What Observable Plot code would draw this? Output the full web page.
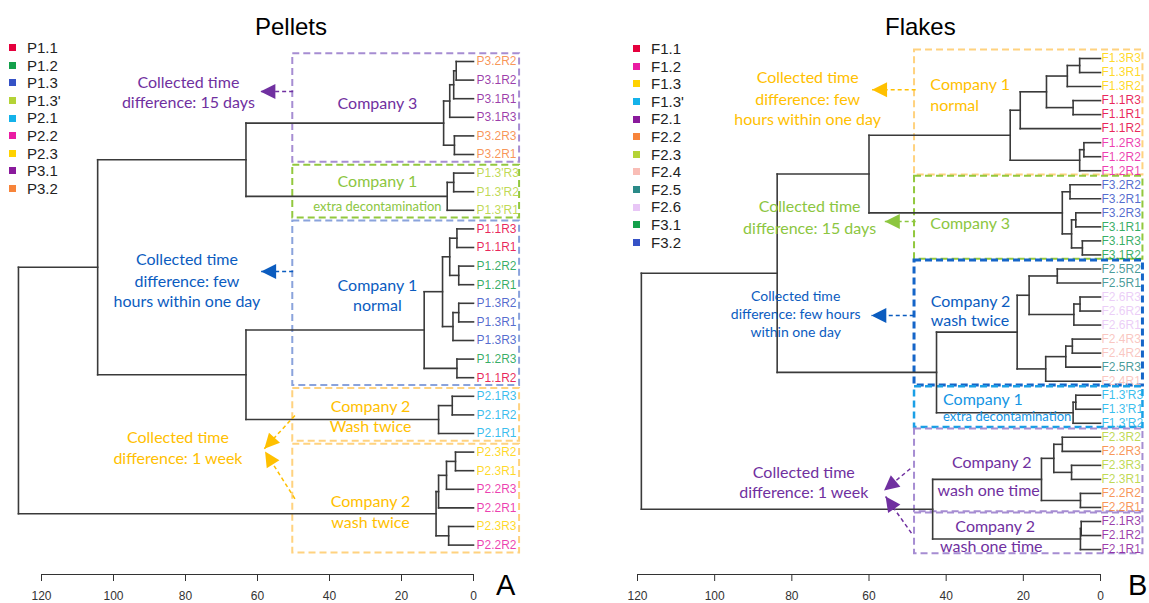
<!DOCTYPE html>
<html><head><meta charset="utf-8">
<script src="https://cdn.jsdelivr.net/npm/d3@7"></script>
<script src="https://cdn.jsdelivr.net/npm/@observablehq/plot@0.6"></script>
<style>
body{margin:0;background:#fff;}
#wrap{position:relative;width:1149px;height:603px;overflow:hidden;font-family:"Liberation Sans",Arial,sans-serif;}
.panel{position:absolute;top:0;}
.title{position:absolute;font-size:24px;line-height:24px;color:#000;white-space:nowrap;}
.legend{position:absolute;font-size:15px;color:#222;}
.legend .row{height:17.6px;line-height:17.6px;display:flex;align-items:center;white-space:nowrap;}
.legend .sw{width:7px;height:7px;display:inline-block;}
.letter{position:absolute;font-size:29px;line-height:29px;color:#000;}
</style></head>
<body><div id="wrap"></div>
<script>
// ---------- Panel A : Pellets ----------
const leavesA = ["P3.2R2","P3.1R2","P3.1R1","P3.1R3","P3.2R3","P3.2R1",
  "P1.3'R3","P1.3'R2","P1.3'R1",
  "P1.1R3","P1.1R1","P1.2R2","P1.2R1","P1.3R2","P1.3R1","P1.3R3","P1.2R3","P1.1R2",
  "P2.1R3","P2.1R2","P2.1R1",
  "P2.3R2","P2.3R1","P2.2R3","P2.2R1","P2.3R3","P2.2R2"];
// hclust-style merges: negative = leaf (1-based), positive = earlier merge (1-based), then height
const mergesA = [
  [-1,-2,4.8],[1,-3,5.5],[2,-4,6.6],[-5,-6,5.3],[3,4,8.3],
  [-7,-8,5.5],[6,-9,7.3],[5,7,63.2],
  [-10,-11,4.6],[-12,-13,4.1],[9,10,6.6],[-14,-15,4.1],[12,-16,5.7],[11,13,8.6],[-17,-18,4.6],[14,15,13.7],
  [-19,-20,5.9],[17,-21,9.7],[16,18,63.2],[8,19,104.4],
  [-22,-23,5.0],[21,-24,7.5],[22,-25,9.7],[-26,-27,6.9],[23,24,10.4],[20,25,126.4]];
const groupsA = ["P1.1","P1.2","P1.3","P1.3'","P2.1","P2.2","P2.3","P3.1","P3.2"];
const colorsA = ["#e5003d","#13a04b","#3552c6","#b4d336","#14b2ea","#ea1ca3","#ffd200","#8a1a9c","#f7843a"];
const boxFirstA = ["P3.2R2","P1.3'R3","P1.1R3","P2.1R3","P2.3R2"];
const boxLastA  = ["P3.2R1","P1.3'R1","P1.1R2","P2.1R1","P2.2R2"];
const boxColorA = ["#a68dd2","#92c83e","#8aa3dc","#ffd27f","#ffd27f"];

// ---------- Panel B : Flakes ----------
const leavesB = ["F1.3R3","F1.3R1","F1.3R2","F1.1R3","F1.1R1","F1.1R2","F1.2R3","F1.2R2","F1.2R1",
  "F3.2R2","F3.2R1","F3.2R3","F3.1R1","F3.1R3","F3.1R2",
  "F2.5R2","F2.5R1","F2.6R3","F2.6R2","F2.6R1","F2.4R3","F2.4R2","F2.5R3","F2.4R1",
  "F1.3'R3","F1.3'R1","F1.3'R2",
  "F2.3R2","F2.2R3","F2.3R3","F2.3R1","F2.2R2","F2.2R1",
  "F2.1R3","F2.1R2","F2.1R1"];
const mergesB = [
  [-1,-2,5.4],[1,-3,8.6],[-4,-5,7.1],[2,3,14.0],[4,-6,20.8],[-7,-8,4.3],[6,-9,5.4],[5,7,23.4],
  [-10,-11,7.9],[-12,-13,6.4],[-14,-15,4.7],[10,11,7.5],[9,12,9.9],[8,13,60.0],
  [-16,-17,11.2],[-18,-19,5.3],[16,-20,6.9],[15,17,18.5],[-21,-22,7.3],[19,-23,9.0],[20,-24,14.2],[18,21,21.6],
  [-25,-26,6.4],[23,-27,7.1],[22,24,42.5],[14,25,83.8],
  [-28,-29,9.9],[-30,-31,7.5],[27,28,12.1],[-32,-33,5.2],[29,30,15.3],
  [-34,-35,5.0],[32,-36,5.2],[31,33,43.5],[26,34,119.0]];
const groupsB = ["F1.1","F1.2","F1.3","F1.3'","F2.1","F2.2","F2.3","F2.4","F2.5","F2.6","F3.1","F3.2"];
const colorsB = ["#e5003d","#ea1ca3","#ffd200","#14b2ea","#8a1a9c","#f7843a","#b4d336","#f9bdb6","#2a8a88","#e8c6f6","#13a04b","#3552c6"];
const boxFirstB = ["F1.3R3","F3.2R2","F2.5R2","F1.3'R3","F2.3R2","F2.1R3"];
const boxLastB  = ["F1.2R1","F3.1R2","F2.4R1","F1.3'R2","F2.2R1","F2.1R1"];
const boxColorB = ["#ffd27f","#92c83e","#1565c8","#1a9fe6","#a68dd2","#a68dd2"];

const ticks = [120,100,80,60,40,20,0];

// annotation colours
const cPurple = "#7030a0", cBlue = "#0b5cbf", cOrange = "#ffc000", cGreen = "#8cc63f", cCyan = "#1495e4";

// annotation texts (x in distance units, y in leaf-index units)
const notesA = [
  {t:"Company 3", x:26.7, y:2.26, c:cPurple, s:16},
  {t:"Company 1", x:26.7, y:6.49, c:cGreen, s:16},
  {t:"extra decontamination", x:26.7, y:7.8, c:cGreen, s:13},
  {t:"Company 1", x:26.7, y:12.04, c:cBlue, s:16},
  {t:"normal", x:26.7, y:13.16, c:cBlue, s:16},
  {t:"Company 2", x:28.6, y:18.55, c:cOrange, s:16},
  {t:"Wash twice", x:28.6, y:19.66, c:cOrange, s:16},
  {t:"Company 2", x:28.6, y:23.69, c:cOrange, s:16},
  {t:"wash twice", x:28.6, y:24.8, c:cOrange, s:16},
  {t:"Collected time", x:79.2, y:1.145, c:cPurple, s:16},
  {t:"difference: 15 days", x:79.2, y:2.24, c:cPurple, s:16},
  {t:"Collected time", x:79.6, y:10.67, c:cBlue, s:16},
  {t:"difference: few", x:79.6, y:11.83, c:cBlue, s:16},
  {t:"hours within one day", x:79.6, y:12.94, c:cBlue, s:16},
  {t:"Collected time", x:82.1, y:20.25, c:cOrange, s:16},
  {t:"difference: 1 week", x:82.1, y:21.38, c:cOrange, s:16}];
const arrowsA = [
  {x1:50.1, y1:1.61, x2:59.2, y2:1.61, c:cPurple},
  {x1:50.1, y1:11.29, x2:59.0, y2:11.29, c:cBlue},
  {x1:49.6, y1:19.03, x2:58.1, y2:20.82, c:cOrange},
  {x1:49.6, y1:23.51, x2:57.9, y2:20.97, c:cOrange}];

const notesB = [
  {t:"Collected time", x:75.9, y:1.40, c:cOrange, s:16, a:"middle"},
  {t:"difference: few", x:75.9, y:2.92, c:cOrange, s:16, a:"middle"},
  {t:"hours within one day", x:75.9, y:4.35, c:cOrange, s:16, a:"middle"},
  {t:"Company 1", x:44.1, y:1.85, c:cOrange, s:16, a:"start"},
  {t:"normal", x:44.1, y:3.35, c:cOrange, s:16, a:"start"},
  {t:"Collected time", x:75.4, y:10.60, c:cGreen, s:16, a:"middle"},
  {t:"difference: 15 days", x:75.4, y:12.14, c:cGreen, s:16, a:"middle"},
  {t:"Company 3", x:44.1, y:11.76, c:cGreen, s:16, a:"start"},
  {t:"Collected time", x:79.0, y:16.96, c:cBlue, s:14, a:"middle"},
  {t:"difference: few hours", x:79.0, y:18.25, c:cBlue, s:14, a:"middle"},
  {t:"within one day", x:79.0, y:19.53, c:cBlue, s:14, a:"middle"},
  {t:"Company 2", x:44.0, y:17.37, c:cBlue, s:16, a:"start"},
  {t:"wash twice", x:44.0, y:18.67, c:cBlue, s:16, a:"start"},
  {t:"Company 1", x:40.8, y:24.30, c:cCyan, s:16, a:"start"},
  {t:"extra decontamination", x:40.8, y:25.57, c:cCyan, s:13, a:"start"},
  {t:"Collected time", x:76.9, y:29.53, c:cPurple, s:16, a:"middle"},
  {t:"difference: 1 week", x:76.9, y:30.98, c:cPurple, s:16, a:"middle"},
  {t:"Company 2", x:28.2, y:28.82, c:cPurple, s:16, a:"middle"},
  {t:"wash one time", x:29.0, y:30.79, c:cPurple, s:16, a:"middle"},
  {t:"Company 2", x:27.3, y:33.36, c:cPurple, s:16, a:"middle"},
  {t:"wash one time", x:28.3, y:34.83, c:cPurple, s:16, a:"middle"}];
const arrowsB = [
  {x1:47.9, y1:2.23, x2:59.2, y2:2.23, c:cOrange},
  {x1:47.9, y1:11.62, x2:55.9, y2:11.62, c:cGreen},
  {x1:48.4, y1:18.32, x2:59.4, y2:18.32, c:cBlue},
  {x1:49.3, y1:29.24, x2:56.1, y2:30.79, c:cPurple},
  {x1:49.0, y1:33.83, x2:55.7, y2:31.22, c:cPurple}];

// ---------- helpers ----------
function dendroSegments(merges) {
  const nodeY = [];
  const pos = id => id < 0 ? {x: 0, y: -id - 1} : {x: merges[id - 1][2], y: nodeY[id - 1]};
  const segs = [];
  merges.forEach(([a, b, h], k) => {
    const pa = pos(a), pb = pos(b);
    segs.push({x1: h, y1: pa.y, x2: h, y2: pb.y});
    segs.push({x1: pa.x, y1: pa.y, x2: h, y2: pa.y});
    segs.push({x1: pb.x, y1: pb.y, x2: h, y2: pb.y});
    nodeY[k] = (pa.y + pb.y) / 2;
  });
  return segs;
}
const triangle = {draw(ctx) { ctx.moveTo(0, 0); ctx.lineTo(-7.5, 15); ctx.lineTo(7.5, 15); ctx.closePath(); }};

function makePanel(cfg) {
  const {leaves, merges, groups, colors, boxFirst, boxLast, boxColor, notes, arrows,
         width, marginLeft, marginRight, yDomain, pad0, pad1, boxLeft, boxRight,
         boxWidth, boxDash, labelDx} = cfg;
  const height = 603, marginTop = 0, marginBottom = 29;
  const xDomain = [120, 0];
  const xRange = [marginLeft, width - marginRight];
  const yRange = [marginTop, height - marginBottom];
  const sx = Plot.scale({x: {domain: xDomain, range: xRange}});
  const sy = Plot.scale({y: {domain: yDomain, range: yRange}});
  const angle = a => Math.atan2(sx.apply(a.x2) - sx.apply(a.x1), -(sy.apply(a.y2) - sy.apply(a.y1))) * 180 / Math.PI;
  const groupOf = d => d.replace(/R\d$/, "");
  const colorOf = d => colors[groups.indexOf(groupOf(d))];
  const boxes = boxFirst.map((f, i) => ({y1: leaves.indexOf(f) - pad0, y2: leaves.indexOf(boxLast[i]) + pad1, c: boxColor[i], w: boxWidth[i]}));
  const segs = dendroSegments(merges);
  const mid = notes.filter(n => (n.a || "middle") === "middle");
  const start = notes.filter(n => n.a === "start");
  const noteFont = "Lato, 'Open Sans', sans-serif";
  return Plot.plot({
    width, height, marginLeft, marginRight, marginTop, marginBottom,
    x: {domain: xDomain, range: xRange, axis: null},
    y: {domain: yDomain, range: yRange, axis: null},
    color: {type: "identity"},
    style: {fontFamily: "'Liberation Sans', Arial, sans-serif", background: "transparent"},
    marks: [
      Plot.rect(boxes, {x1: boxLeft, x2: boxRight, y1: "y1", y2: "y2", fill: "none", stroke: "c", strokeWidth: d => d.w, strokeDasharray: boxDash}),
      Plot.link(segs, {x1: "x1", y1: "y1", x2: "x2", y2: "y2", stroke: "#3a3a3a", strokeWidth: 1.6, strokeLinecap: "square"}),
      Plot.text(leaves, {x: 0, y: (d, i) => i, text: d => d, fill: colorOf, fillOpacity: 0.85, textAnchor: "start", dx: labelDx, fontSize: 12}),
      Plot.link(arrows, {x1: "x1", y1: "y1", x2: "x2", y2: "y2", stroke: "c", strokeWidth: 1.5, strokeDasharray: "4,3"}),
      Plot.dot(arrows, {x: "x2", y: "y2", symbol: triangle, rotate: angle, fill: "c", stroke: null}),
      Plot.text(mid, {x: "x", y: "y", text: "t", fill: "c", fontSize: "s", textAnchor: "middle", fontFamily: noteFont}),
      Plot.text(start, {x: "x", y: "y", text: "t", fill: "c", fontSize: "s", textAnchor: "start", fontFamily: noteFont}),
      Plot.ruleY([yDomain[1]], {x1: 120, x2: 0, stroke: "#333", strokeWidth: 1.2}),
      Plot.axisX({ticks, tickSize: 7, tickPadding: 10, fontSize: 12, label: null, anchor: "bottom", stroke: "#333", fill: "#333"})
    ]
  });
}

const wrap = document.getElementById("wrap");
function place(el, left) { el.classList.add("panel"); el.style.left = left + "px"; wrap.appendChild(el); }

place(makePanel({leaves: leavesA, merges: mergesA, groups: groupsA, colors: colorsA,
  boxFirst: boxFirstA, boxLast: boxLastA, boxColor: boxColorA, notes: notesA, arrows: arrowsA,
  width: 575, marginLeft: 41, marginRight: 102, yDomain: [-61 / 18.6, (574 - 61) / 18.6],
  pad0: 0.42, pad1: 0.42, boxLeft: 50.2, boxRight: -12.8, boxWidth: [2, 2, 2, 2, 2], boxDash: "7,4", labelDx: 3}), 0);

place(makePanel({leaves: leavesB, merges: mergesB, groups: groupsB, colors: colorsB,
  boxFirst: boxFirstB, boxLast: boxLastB, boxColor: boxColorB, notes: notesB, arrows: arrowsB,
  width: 574, marginLeft: 62, marginRight: 49, yDomain: [-58 / 14.03, (574 - 58) / 14.03],
  pad0: 0.6, pad1: 0.3, boxLeft: 48.2, boxRight: -11.0, boxWidth: [2, 2, 3, 2.5, 2, 2], boxDash: "7,4", labelDx: 1}), 575);

// titles, panel letters
function addText(cls, txt, left, top) { const d = document.createElement("div"); d.className = cls; d.textContent = txt; d.style.left = left + "px"; d.style.top = top + "px"; wrap.appendChild(d); }
addText("title", "Pellets", 255, 15);
addText("title", "Flakes", 885, 15);
addText("letter", "A", 496, 571);
addText("letter", "B", 1128, 571);

// legends
function addLegend(groups, colors, left, top) {
  const lg = document.createElement("div"); lg.className = "legend"; lg.style.left = left + "px"; lg.style.top = top + "px";
  groups.forEach((g, i) => {
    const r = document.createElement("div"); r.className = "row";
    const s = document.createElement("span"); s.className = "sw"; s.style.background = colors[i]; s.style.marginRight = "11px";
    const t = document.createElement("span"); t.textContent = g;
    r.appendChild(s); r.appendChild(t); lg.appendChild(r);
  });
  wrap.appendChild(lg);
}
addLegend(groupsA, colorsA, 9, 39);
addLegend(groupsB, colorsB, 633, 40);
</script></body></html>
